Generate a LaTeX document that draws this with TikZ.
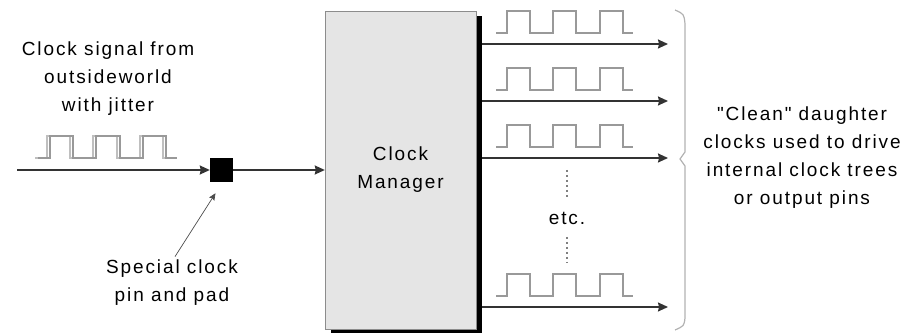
\documentclass[tikz,border=0pt]{standalone}
\usepackage{fontspec}
\setmainfont[LetterSpace=10, Ligatures=TeXOff]{Liberation Sans}
\usepackage{tikz}
\usetikzlibrary{arrows.meta, positioning, calc}
\tikzset{
  arrow/.style={-{Stealth[length=10pt,width=9pt,inset=1pt]}, line width=1.6pt, draw=black!80},
  ptr/.style={-{Stealth[length=7pt,width=6pt,inset=1pt]}, line width=0.7pt, draw=black!70},
  wave/.style={draw=black!40, line width=1.3pt},
  jitwave/.style={draw=black!30, line width=1.6pt},
  label/.style={align=center, font=\fontsize{19}{28}\selectfont},
  dots/.style={draw=black!50, line width=1.6pt, dash pattern=on 2pt off 3pt},
}
\begin{document}
\begin{tikzpicture}[x=1pt, y=-1pt]
\useasboundingbox (0,0) rectangle (920,336);

% ── Clock Manager 主方框（带阴影） ─────────────────────────────────────
\fill[black] (331,16) rectangle (482,333);
\node[draw=black!45, fill=black!10, minimum width=151pt, minimum height=318pt,
      label, inner sep=0pt] (mgr) at (400.5,170) {Clock\\Manager};

% ── 输入端 ─────────────────────────────────────────────────────────────
\node[label] (inlbl) at (108,79) {Clock signal from\\outsideworld\\with jitter};
\coordinate (src) at (17,170);
\node[fill=black, minimum width=23pt, minimum height=24pt, inner sep=0pt] (pad) at (221.5,170) {};
\draw[arrow] (src) -- (pad.west);
\draw[arrow] (pad.east) -- (mgr.west);

% 抖动的输入波形
\foreach \dx/\col in {0/black!25, 3/black!40}
  \draw[jitwave, draw=\col, xshift=\dx pt] (35,158) -- (47,158) -- (47,136) -- (70,136) -- (70,158)
    -- (93,158) -- (93,136) -- (117,136) -- (117,158) -- (140,158) -- (140,136)
    -- (163,136) -- (163,158) -- (174,158);

\node[label] (padlbl) at (172,283) {Special clock\\pin and pad};
\draw[ptr] ([xshift=3pt]padlbl.north) -- ([xshift=-6pt,yshift=-11pt]pad.south);

% ── 输出端 ─────────────────────────────────────────────────────────────
\foreach \i/\y in {1/44, 2/101, 3/158, 4/307} {
  \coordinate (out\i) at (668,\y);
  \draw[arrow] (mgr.east |- out\i) ++(6,0) -- (out\i);
  \draw[wave] (496,\y-11) -- ++(11,0) -- ++(0,-22) -- ++(23,0) -- ++(0,22)
    -- ++(23,0) -- ++(0,-22) -- ++(23,0) -- ++(0,22) -- ++(24,0) -- ++(0,-22)
    -- ++(23,0) -- ++(0,22) -- ++(10,0);
}

\node[label] (etc) at (567,218) {etc.};
\draw[dots] (567,170) -- (567,198);
\draw[dots] (567,237) -- (567,263);

% 大括号
\draw[draw=black!30, line width=1.2pt]
  (675,10) .. controls (684,14) .. (685,24) -- (685,152) -- (680,159) -- (685,166)
  -- (685,318) .. controls (684,326) .. (675,330);

\node[label] (outlbl) at (802,158)
  {"Clean" daughter\\clocks used to drive\\internal clock trees\\or output pins};

\end{tikzpicture}
\end{document}
